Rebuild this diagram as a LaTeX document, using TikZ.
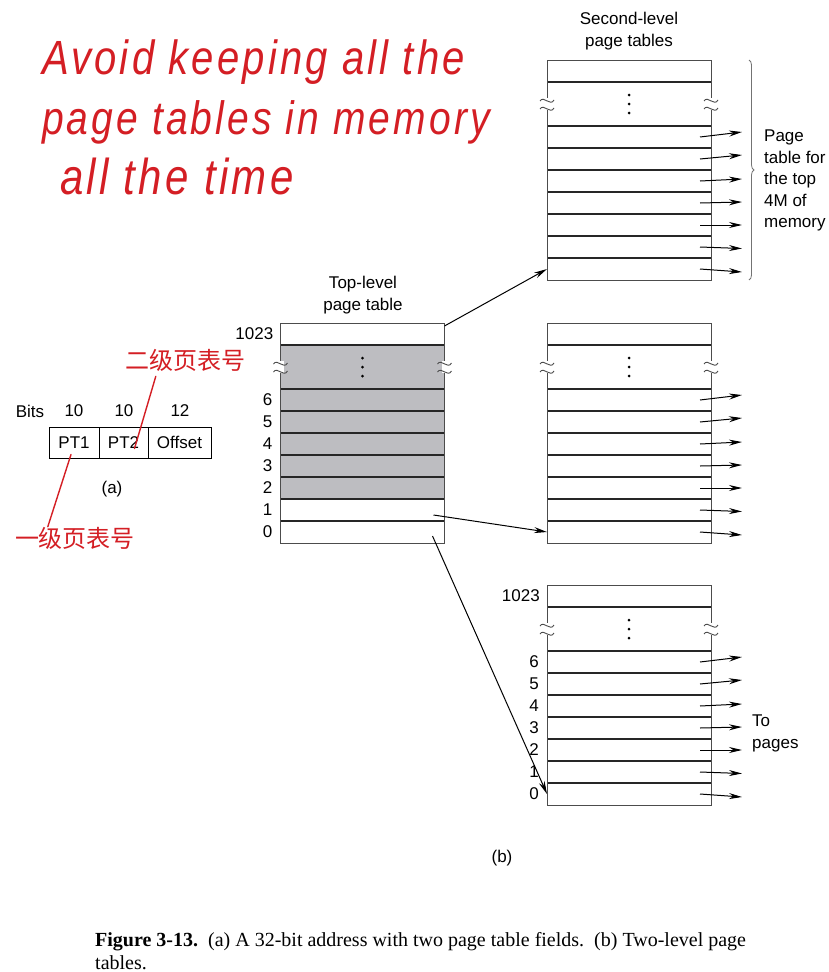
\documentclass[tikz,border=0pt]{standalone}
\usepackage{fontspec}
\setmainfont{Liberation Sans}
\newfontfamily\capfont{Liberation Serif}
\newfontfamily\cjk{Noto Sans CJK SC}
\newfontfamily\hand{Liberation Sans}[LetterSpace=8]
\usetikzlibrary{arrows.meta,decorations.pathreplacing,calc}
\definecolor{rowgray}{RGB}{189,189,193}
\definecolor{ink}{RGB}{212,30,36}
\begin{document}
\begin{tikzpicture}[x=1pt,y=-1pt,
  lbl/.style={font=\fontsize{17}{21.5}\selectfont, inner sep=0pt},
  rowbox/.style={minimum width=164pt, minimum height=22pt, inner sep=0pt, outer sep=0pt},
  sepline/.style={line width=1.5pt, draw=black!85},
  frame/.style={line width=0.9pt, draw=black!70},
  ptr/.style={line width=1pt, -{Stealth[length=13pt,width=6pt]}},
  hw/.style={text=ink, inner sep=0pt},
  hwline/.style={draw=ink, line width=1.4pt, line cap=round},
  capt/.style={font=\capfont\fontsize{20}{22}\selectfont, inner sep=0pt, anchor=base west}
]
\fill[white] (0,0) rectangle (828,972);
\useasboundingbox (0,0) rectangle (828,972);

% ---------- tables ----------
\foreach \nm/\xa/\ya in {T/280.5/323, A/547/60, B/547/323, C/547/585}{
  \pgfmathsetmacro{\xc}{\xa+82}
  \node[rowbox] (\nm-top) at (\xc,\ya+11) {};
  \node[rowbox, minimum height=44pt] (\nm-dots) at (\xc,\ya+44) {};
  \foreach \k in {0,...,6}{
    \node[rowbox] (\nm-\k) at (\xc,{\ya+66+22*(6-\k)+11}) {};
  }
}
% shading of the top-level table
\fill[rowgray] (T-dots.north west) rectangle (T-2.south east);

\foreach \nm in {T,A,B,C}{
  \draw[sepline] (\nm-top.south west) -- (\nm-top.south east);
  \draw[sepline] (\nm-dots.south west) -- (\nm-dots.south east);
  \foreach \k in {6,5,4,3,2,1}{
    \draw[sepline] (\nm-\k.south west) -- (\nm-\k.south east);
  }
  \draw[frame] (\nm-top.north west) rectangle (\nm-0.south east);
  % break marks
  \foreach \s in {west,east}{
    \fill[white] ($(\nm-dots.\s)+(-3,-6)$) rectangle ($(\nm-dots.\s)+(3,6)$);
    \draw[line width=0.9pt, black!70]
      ($(\nm-dots.\s)+(-7,-3)$) .. controls ($(\nm-dots.\s)+(-3,-9)$) and ($(\nm-dots.\s)+(3,3)$) .. ($(\nm-dots.\s)+(7,-4)$);
    \draw[line width=0.9pt, black!70]
      ($(\nm-dots.\s)+(-7,5)$) .. controls ($(\nm-dots.\s)+(-3,-1)$) and ($(\nm-dots.\s)+(3,11)$) .. ($(\nm-dots.\s)+(7,4)$);
  }
  % vertical dots
  \foreach \d in {-9,0,9}{
    \fill (\nm-dots.center) ++(0,\d) circle (1.5pt);
  }
}

% pointers out of second-level tables
\foreach \nm in {A,B,C}{
  \foreach \k/\o in {6/-5,5/-4,4/-2,3/-1,2/0,1/1.5,0/3}{
    \coordinate (\nm-\k-s) at ([xshift=-11pt]\nm-\k.east);
    \coordinate (\nm-\k-e) at ($(\nm-\k-s)+(42,\o)$);
    \draw[ptr] (\nm-\k-s) -- (\nm-\k-e);
  }
}

% pointers from top-level table
\coordinate (T-hi) at ([yshift=-3pt]T-top.north east);
\draw[ptr] (T-hi) -- (A-0.west);
\coordinate (T-1s) at ([xshift=-11pt,yshift=-5pt]T-1.east);
\draw[ptr] (T-1s) -- (B-0.west);
\coordinate (T-0s) at ([xshift=-12pt,yshift=-4pt]T-0.east);
\draw[ptr] (T-0s) -- (C-0.west);

% row labels
\node[lbl, anchor=east] (lT-top) at ([xshift=-7pt]T-top.west) {1023};
\node[lbl, anchor=east] (lC-top) at ([xshift=-7pt]C-top.west) {1023};
\foreach \k in {0,...,6}{
  \node[lbl, anchor=east] (lT-\k) at ([xshift=-8pt]T-\k.west) {\k};
  \node[lbl, anchor=east] (lC-\k) at ([xshift=-8pt]C-\k.west) {\k};
}

% titles
\node[lbl, align=center] (ttop) at (363,295) {Top-level\\page table};
\node[lbl, align=center] (tsec) at (629,31) {Second-level\\page tables};

% brace
\draw[decorate, decoration={brace, amplitude=5pt}, draw=black!55, line width=0.8pt]
  ([xshift=38pt]A-top.north east) -- ([xshift=38pt]A-0.south east);
\node[lbl, anchor=north west, align=left] (bracetxt) at (764,130)
  {Page\\table for\\the top\\4M of\\memory};
\node[lbl, anchor=north west, align=left] (topages) at (752,715) {To\\pages};

% ---------- part (a) ----------
\node[lbl] (bits) at (30,411) {Bits};
\node[lbl] (b1) at (74,411) {10};
\node[lbl] (b2) at (124,411) {10};
\node[lbl] (b3) at (180,411) {12};
\node[lbl, draw, line width=0.9pt, minimum width=50pt, minimum height=31pt] (pt1) at (74,442.5) {PT1};
\node[lbl, draw, line width=0.9pt, minimum width=49pt, minimum height=31pt] (pt2) at (123.5,442.5) {PT2};
\node[lbl, draw, line width=0.9pt, minimum width=63pt, minimum height=31pt] (off) at (179.5,442.5) {Offset};
\node[lbl] (capa) at (112,489) {(a)};
\node[lbl] (capb) at (502,858) {(b)};

% ---------- caption ----------
\node[capt] (cap1) at (95,946) {\textbf{Figure 3-13.}\ \ (a) A 32-bit address with two page table fields.\ \ (b) Two-level page};
\node[capt] (cap2) at (95,969) {tables.};

% ---------- handwritten notes ----------
\node[hw, anchor=base west, font=\hand\itshape\fontsize{40}{44}\selectfont] (n1) at (42,74) {\scalebox{1}[1.2]{Avoid keeping all the}};
\node[hw, anchor=base west, font=\hand\itshape\fontsize{39}{44}\selectfont] (n2) at (42,134) {\scalebox{1}[1.2]{page tables in memory}};
\node[hw, anchor=base west, font=\hand\itshape\fontsize{42}{44}\selectfont] (n3) at (60,194) {\scalebox{1}[1.2]{all the time}};
\node[hw, font=\cjk\fontsize{24}{26}\selectfont] (zh2) at (185,360) {二级页表号};
\node[hw, font=\cjk\fontsize{24}{26}\selectfont] (zh1) at (75,538) {一级页表号};
\coordinate (pt2m) at ([xshift=11pt,yshift=-6pt]pt2.center);
\coordinate (pt1m) at ([xshift=-3pt,yshift=-12pt]pt1.center);
\draw[hwline] (pt2m) -- ([xshift=31pt,yshift=-5pt]zh2.south west);
\draw[hwline] (pt1m) -- ([xshift=33pt]zh1.north west);
\end{tikzpicture}
\end{document}
